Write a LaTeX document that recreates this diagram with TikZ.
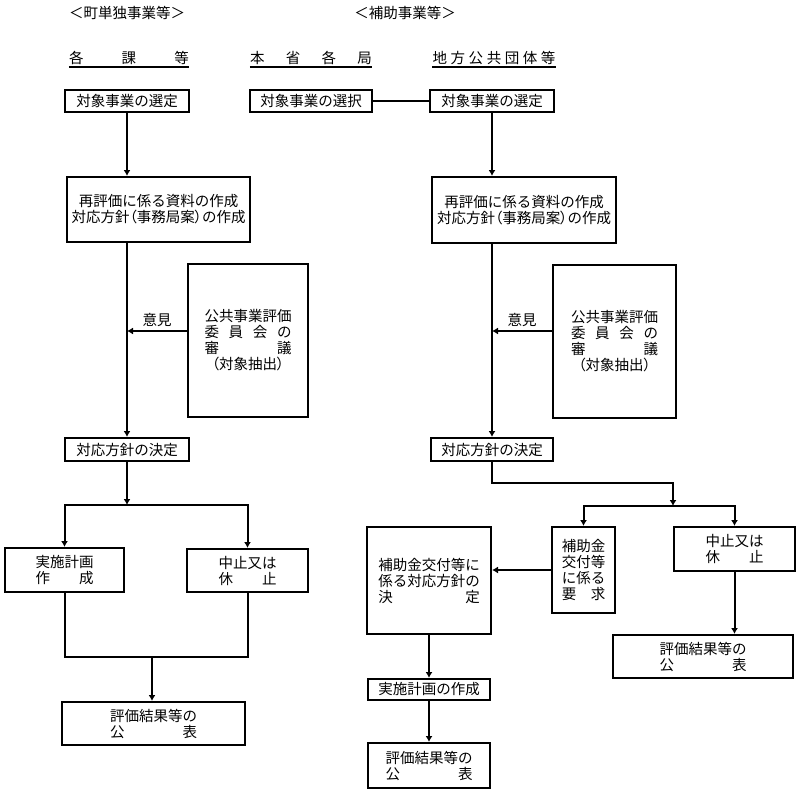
\documentclass[tikz,border=0pt]{standalone}
\usepackage{fontspec}
\setmainfont{Noto Sans CJK JP}
\newfontfamily\paltfont[RawFeature=+palt]{Noto Sans CJK JP}
\usetikzlibrary{arrows.meta}

\newcommand{\spreadline}[2]{\hbox to #1{#2}}
\newcommand{\lparen}{{\paltfont （}}
\newcommand{\rparen}{{\paltfont ）}}

\tikzstyle{flowbox} = [
    rectangle,
    draw=black,
    line width=2pt,
    inner sep=0pt,
    align=center,
    font=\fontsize{14.5pt}{16pt}\selectfont
]
\tikzstyle{heading} = [
    inner sep=0pt,
    font=\fontsize{14.5pt}{16pt}\selectfont
]
\tikzstyle{joinline} = [line width=2pt]
\tikzstyle{arrow} = [line width=2pt,-{Latex[length=6pt,width=7pt]}]

\begin{document}
\begin{tikzpicture}[x=1pt,y=-1pt]
\useasboundingbox (0,0) rectangle (800,800);

% headings
\node (hlocal) [heading] at (127,13) {＜町単独事業等＞};
\node (haid) [heading] at (405,13) {＜補助事業等＞};

\node (hsection) [heading] at (129,58)
{\spreadline{120pt}{各\hfil 課\hfil 等}};
\node (hministry) [heading] at (311,58)
{\spreadline{122pt}{本\hfil 省\hfil 各\hfil 局}};
\node (hlocalgov) [heading] at (494,58)
{\spreadline{123pt}{地\hfil 方\hfil 公\hfil 共\hfil 団\hfil 体\hfil 等}};

\draw [joinline] ([yshift=-9pt]hsection.west) -- ([yshift=-9pt]hsection.east);
\draw [joinline] ([yshift=-9pt]hministry.west) -- ([yshift=-9pt]hministry.east);
\draw [joinline] ([yshift=-9pt]hlocalgov.west) -- ([yshift=-9pt]hlocalgov.east);

% left: town projects
\node (lsel) [flowbox, minimum width=124pt, minimum height=22pt] at (127,101)
{対象事業の選定};

\node (lrev) [flowbox, minimum width=183pt, minimum height=65pt] at (158.5,209.5)
{再評価に係る資料の作成\\
対応方針\lparen 事務局案\rparen の作成};

\node (lcom) [flowbox, minimum width=120pt, minimum height=153pt] at (248,340.5)
{公共事業評価\\
\spreadline{6em}{委\hfil 員\hfil 会\hfil の}\\
\spreadline{6em}{審\hfil 議}\\
\lparen 対象抽出\rparen};

\node (ldec) [flowbox, minimum width=124pt, minimum height=23pt] at (127,449.5)
{対応方針の決定};

\node (limp) [flowbox, minimum width=119pt, minimum height=44pt] at (64.5,570)
{実施計画\\ \spreadline{4em}{作\hfil 成}};

\node (lstop) [flowbox, minimum width=121pt, minimum height=43pt] at (247.5,570.5)
{中止又は\\ \spreadline{4em}{休\hfil 止}};

\node (lpub) [flowbox, minimum width=183pt, minimum height=43pt] at (153.5,723.5)
{評価結果等の\\ \spreadline{6em}{公\hfil 表}};

\coordinate (lsplit) at (127,505);
\coordinate (lmerge) at (152,657);
\coordinate (lopinion) at ([yshift=9.5pt]lcom.west);

\draw [arrow] (lsel) -- (lsel |- lrev.north);
\draw [arrow] (lsel |- lrev.south) -- (lsel |- ldec.north);
\draw [arrow] (lopinion) -- (lopinion -| lsel.south)
    node [heading, midway, above=3pt] {意見};
\draw [arrow] (ldec) -- (lsplit);
\draw [arrow] (lsplit) -| (limp);
\draw [arrow] (lsplit) -| (lstop);
\draw [joinline] (limp) |- (lmerge) -| (lstop);
\draw [arrow] (lmerge) -- (lmerge |- lpub.north);

% right: subsidised projects
\node (rchoose) [flowbox, minimum width=122pt, minimum height=22pt] at (311,101)
{対象事業の選択};

\node (rsel) [flowbox, minimum width=124pt, minimum height=22pt] at (492,101)
{対象事業の選定};

\node (rrev) [flowbox, minimum width=184pt, minimum height=66pt] at (524,210)
{再評価に係る資料の作成\\
対応方針\lparen 事務局案\rparen の作成};

\node (rcom) [flowbox, minimum width=123pt, minimum height=153pt] at (614.5,341.5)
{公共事業評価\\
\spreadline{6em}{委\hfil 員\hfil 会\hfil の}\\
\spreadline{6em}{審\hfil 議}\\
\lparen 対象抽出\rparen};

\node (rdec) [flowbox, minimum width=122pt, minimum height=23pt] at (492,449.5)
{対応方針の決定};

\node (rreq) [flowbox, minimum width=63pt, minimum height=86pt] at (583.5,570)
{補助金\\ 交付等\\ に係る\\ \spreadline{3em}{要\hfil 求}};

\node (rstop) [flowbox, minimum width=121pt, minimum height=44pt] at (734.5,549)
{中止又は\\ \spreadline{4em}{休\hfil 止}};

\node (rgrant) [flowbox, minimum width=124pt, minimum height=107pt] at (429,580.5)
{補助金交付等に\\ 係る対応方針の\\ \spreadline{7em}{決\hfil 定}};

\node (rimp) [flowbox, minimum width=122pt, minimum height=21pt] at (429,689.5)
{実施計画の作成};

\node (rpub) [flowbox, minimum width=122pt, minimum height=45pt] at (429,765.5)
{評価結果等の\\ \spreadline{6em}{公\hfil 表}};

\node (rpub2) [flowbox, minimum width=180pt, minimum height=43pt] at (703,656.5)
{評価結果等の\\ \spreadline{6em}{公\hfil 表}};

\coordinate (rbend) at (673,483);
\coordinate (rsplit) at (673,506);
\coordinate (ropinion) at ([yshift=10.5pt]rcom.west);

\draw [joinline] (rchoose) -- (rsel);
\draw [arrow] (rsel) -- (rsel |- rrev.north);
\draw [arrow] (rsel |- rrev.south) -- (rsel |- rdec.north);
\draw [arrow] (ropinion) -- (ropinion -| rsel.south)
    node [heading, midway, above=3pt] {意見};
\draw [arrow] (rdec) |- (rbend) -- (rsplit);
\draw [arrow] (rsplit) -| (rreq);
\draw [arrow] (rsplit) -| (rstop);
\draw [arrow] (rreq) -- (rreq -| rgrant.east);
\draw [arrow] (rgrant) -- (rimp);
\draw [arrow] (rimp) -- (rpub);
\draw [arrow] (rstop) -- (rstop |- rpub2.north);

\end{tikzpicture}
\end{document}
